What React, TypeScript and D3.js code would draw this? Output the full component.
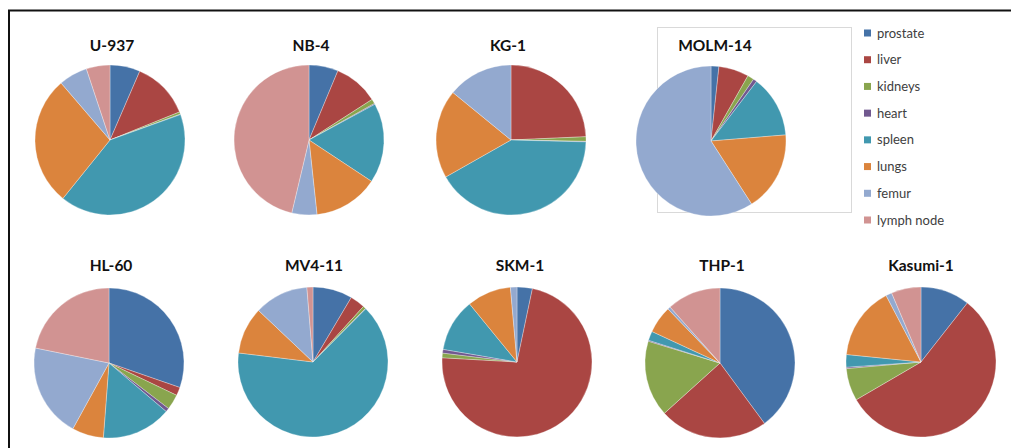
import React from "react";
import * as d3 from "d3";

const organs = ["prostate", "liver", "kidneys", "heart", "spleen", "lungs", "femur", "lymph node"];
const colors = ["#4572A7", "#AA4643", "#89A54E", "#71588F", "#4198AF", "#DB843D", "#93A9CF", "#D19392"];

const cellLines = ["U-937", "NB-4", "KG-1", "MOLM-14", "HL-60", "MV4-11", "SKM-1", "THP-1", "Kasumi-1"];

// values per organ (prostate, liver, kidneys, heart, spleen, lungs, femur, lymph node), %
const u937 = [6.5, 12.4, 0.5, 0.1, 41.3, 27.9, 6.2, 5.1];
const nb4 = [6.3, 9.6, 1.0, 0.2, 17.2, 14.0, 5.4, 46.3];
const kg1 = [0, 24.3, 1.0, 0.1, 41.4, 19.1, 14.1, 0];
const molm14 = [1.7, 6.5, 1.4, 0.8, 13.3, 17.2, 59.1, 0];
const hl60 = [30.3, 1.8, 3.3, 0.8, 15.0, 6.8, 20.2, 21.8];
const mv411 = [8.5, 3.2, 0.6, 0.1, 64.3, 10.1, 11.6, 1.3];
const skm1 = [3.3, 72.6, 1.0, 0.8, 11.4, 9.5, 1.4, 0];
const thp1 = [39.9, 23.4, 16.4, 0.2, 2.0, 5.9, 0.6, 11.6];
const kasumi1 = [10.6, 56.0, 7.0, 0.3, 2.7, 15.7, 1.3, 6.4];

const seriesValues = [u937, nb4, kg1, molm14, hl60, mv411, skm1, thp1, kasumi1];

// layout (positions of each pie)
const layout = [
  { cx: 110, cy: 140, tx: 112, ty: 51 },
  { cx: 309, cy: 140, tx: 311, ty: 51 },
  { cx: 511, cy: 140, tx: 508, ty: 51 },
  { cx: 711, cy: 141, tx: 715, ty: 51 },
  { cx: 109, cy: 363, tx: 111, ty: 271 },
  { cx: 313, cy: 362, tx: 314, ty: 271 },
  { cx: 517, cy: 362, tx: 520, ty: 271 },
  { cx: 720, cy: 363, tx: 722, ty: 271 },
  { cx: 921, cy: 362, tx: 921, ty: 271 },
];

const R = 75;

export default function App() {
  const pie = d3
    .pie<number>()
    .sort(null)
    .value((d) => d)
    .startAngle(0)
    .endAngle(2 * Math.PI);
  const arc = d3.arc<d3.PieArcDatum<number>>().innerRadius(0).outerRadius(R);
  const legendY = d3.scalePoint<string>().domain(organs).range([33, 220]);

  return (
    <svg
      width={1011}
      height={448}
      style={{ position: "absolute", left: 0, top: 0, background: "#fff" }}
      fontFamily="Lato, 'Open Sans', sans-serif"
    >
      <rect x={0} y={0} width={1011} height={448} fill="#fff" />
      {/* outer frame */}
      <path d="M9,460 L9,10.5 L1020,10.5" fill="none" stroke="#111" strokeWidth={2} />
      {/* MOLM-14 chart area box */}
      <rect x={657.5} y={27.5} width={194} height={185} fill="#fff" stroke="#d9d9d9" strokeWidth={1} />
      {cellLines.map((name, i) => {
        const p = layout[i];
        const arcs = pie(seriesValues[i]);
        return (
          <g key={name}>
            <g transform={`translate(${p.cx},${p.cy})`}>
              {arcs.map((a, j) =>
                a.value > 0 ? (
                  <path key={j} d={arc(a) || ""} fill={colors[j]} stroke="#fff" strokeOpacity={0.6} strokeWidth={0.5} />
                ) : null
              )}
            </g>
            <text x={p.tx} y={p.ty} textAnchor="middle" fontSize={15.5} fontWeight="bold" fill="#111">
              {name}
            </text>
          </g>
        );
      })}
      {/* legend */}
      {organs.map((o, j) => (
        <g key={o}>
          <rect x={864} y={(legendY(o) as number) - 3.5} width={7} height={7} fill={colors[j]} />
          <text x={877} y={(legendY(o) as number) + 4.5} fontSize={13} fill="#404040">
            {o}
          </text>
        </g>
      ))}
    </svg>
  );
}
